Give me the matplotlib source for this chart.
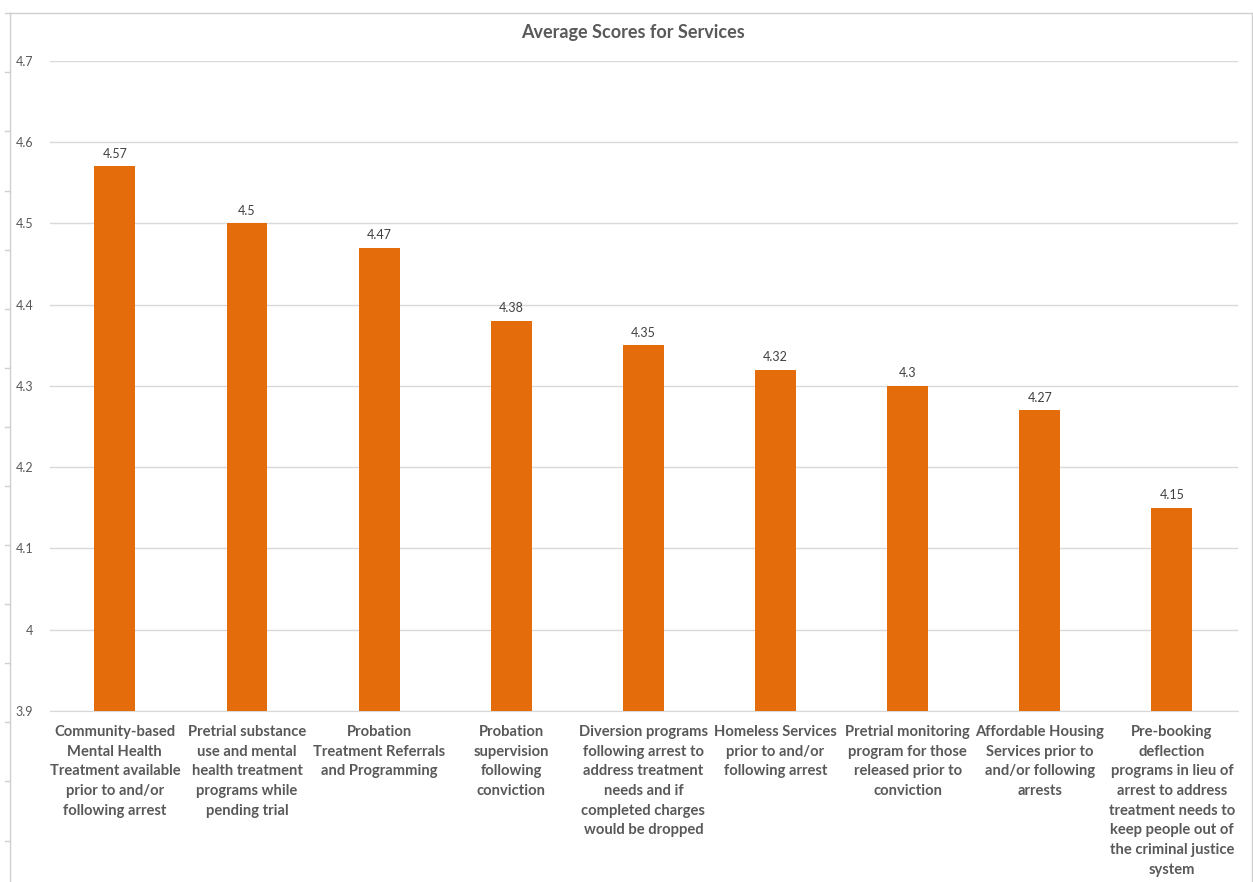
import matplotlib.pyplot as plt
from matplotlib.lines import Line2D

# Данные
categories = [
    'Community-based\nMental Health\nTreatment available\nprior to and/or\nfollowing arrest',
    'Pretrial substance\nuse and mental\nhealth treatment\nprograms while\npending trial',
    'Probation\nTreatment Referrals\nand Programming',
    'Probation\nsupervision\nfollowing\nconviction',
    'Diversion programs\nfollowing arrest to\naddress treatment\nneeds and if\ncompleted charges\nwould be dropped',
    'Homeless Services\nprior to and/or\nfollowing arrest',
    'Pretrial monitoring\nprogram for those\nreleased prior to\nconviction',
    'Affordable Housing\nServices prior to\nand/or following\narrests',
    'Pre-booking\ndeflection\nprograms in lieu of\narrest to address\ntreatment needs to\nkeep people out of\nthe criminal justice\nsystem',
]
scores = [4.57, 4.5, 4.47, 4.38, 4.35, 4.32, 4.3, 4.27, 4.15]
score_labels = ['4.57', '4.5', '4.47', '4.38', '4.35', '4.32', '4.3', '4.27', '4.15']
yticks = [3.9, 4.0, 4.1, 4.2, 4.3, 4.4, 4.5, 4.6, 4.7]
ytick_labels = ['3.9', '4', '4.1', '4.2', '4.3', '4.4', '4.5', '4.6', '4.7']

plt.rcParams['font.family'] = ['Lato', 'DejaVu Sans']

fig = plt.figure(figsize=(12.53, 8.82), dpi=100)
ax = fig.add_axes([0.040, 0.194, 0.948, 0.737])

x = range(len(scores))
ax.bar(x, scores, width=0.31, color='#E46C0A', zorder=3)

for xi, s, lab in zip(x, scores, score_labels):
    ax.text(xi, s + 0.008, lab, ha='center', va='bottom', fontsize=9, color='#404040')

ax.set_ylim(3.9, 4.7)
ax.set_xlim(-0.49, 8.5)
ax.set_yticks(yticks)
ax.set_yticklabels(ytick_labels, fontsize=9, color='#595959')
ax.set_xticks(list(x))
ax.set_xticklabels(categories, fontsize=10.6, fontweight='bold', color='#595959', linespacing=1.52)
ax.tick_params(axis='y', length=0, pad=12)
ax.tick_params(axis='x', length=0, pad=10)
ax.grid(axis='y', color='#D9D9D9', linewidth=1, zorder=0)
for sp in ['top', 'right', 'left']:
    ax.spines[sp].set_visible(False)
ax.spines['bottom'].set_color('#D9D9D9')

fig.text(0.505, 0.963, 'Average Scores for Services', ha='center', va='center',
         fontsize=13, fontweight='bold', color='#595959')

# рамка / линейка
fig.add_artist(Line2D([0.008, 0.008], [0.0, 0.985], color='#D0D0D0', linewidth=1))
for i in range(15):
    yy = 0.985 - i * 0.067
    fig.add_artist(Line2D([0.004, 0.008], [yy, yy], color='#D0D0D0', linewidth=1))
fig.add_artist(Line2D([0.008, 0.999], [0.985, 0.985], color='#D0D0D0', linewidth=1))
fig.add_artist(Line2D([0.999, 0.999], [0.0, 0.985], color='#D0D0D0', linewidth=1))

plt.savefig('out.png', dpi=100)
